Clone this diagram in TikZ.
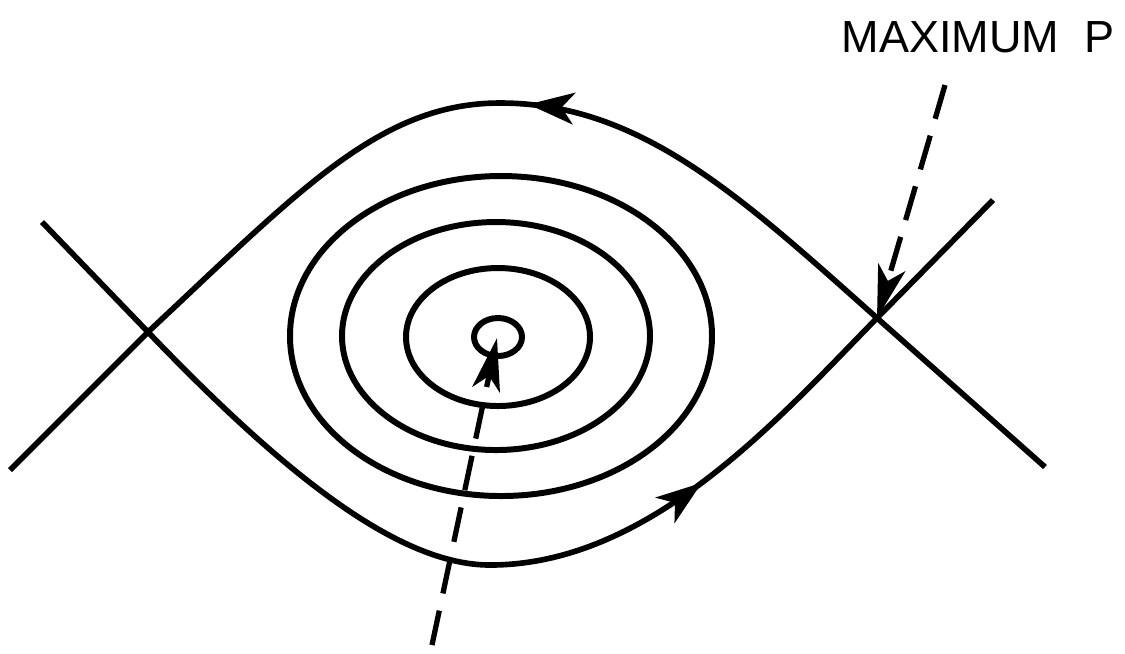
\documentclass[tikz,border=0pt]{standalone}
\usepackage{fontspec}
\setmainfont{Liberation Sans}
\usetikzlibrary{arrows.meta,decorations.markings}
\begin{document}
\begin{tikzpicture}[x=0.01cm,y=-0.01cm,
  orbit/.style={line width=1.7pt},
  sep/.style={line width=1.6pt, line join=round},
  dasharrow/.style={line width=1.5pt, dash pattern=on 10pt off 5pt, -{Stealth[length=15pt,width=8pt,inset=4pt]}},
  midarrow/.style={postaction={decorate},decoration={markings,mark=at position #1 with {\arrow{Stealth[length=13pt,width=9pt,inset=3.5pt]}}}}]
\useasboundingbox (0,0) rectangle (1125,653);
% saddle points and ends
\coordinate (L) at (148,332);
\coordinate (R) at (877,318);
\coordinate (LA) at (42,222);
\coordinate (LB) at (10,470);
\coordinate (RA) at (993,200);
\coordinate (RB) at (1045,467);
\coordinate (C) at (497,338);
\coordinate (D) at (432,645);
\coordinate (T) at (945,85);
% upper separatrix (drawn right to left so the arrow points left)
\draw[sep, midarrow=0.495] (RB) -- (R) .. controls (740,196) and (640,103) .. (500,103)
   .. controls (380,103) and (300,190) .. (L) -- (LB);
% lower separatrix (left to right)
\draw[sep, midarrow=0.665] (LA) -- (L) .. controls (287,477) and (400,565) .. (490,565)
   .. controls (650,565) and (779,418) .. (R) -- (RA);
% closed orbits
\draw[orbit] (501,336) ellipse [x radius=211, y radius=160];
\draw[orbit] (496,336) ellipse [x radius=154, y radius=114];
\draw[orbit] (498,337) ellipse [x radius=92, y radius=69];
\draw[orbit] (498,337) ellipse [x radius=24, y radius=19];
% label
\node[font=\fontsize{12.8}{15}\selectfont, inner sep=0pt] (lbl) at (978,37) {MAXIMUM\ \ P};
% dashed pointers
\draw[dasharrow] (T) -- (R);
\draw[dasharrow] (D) -- (C);
\end{tikzpicture}
\end{document}
